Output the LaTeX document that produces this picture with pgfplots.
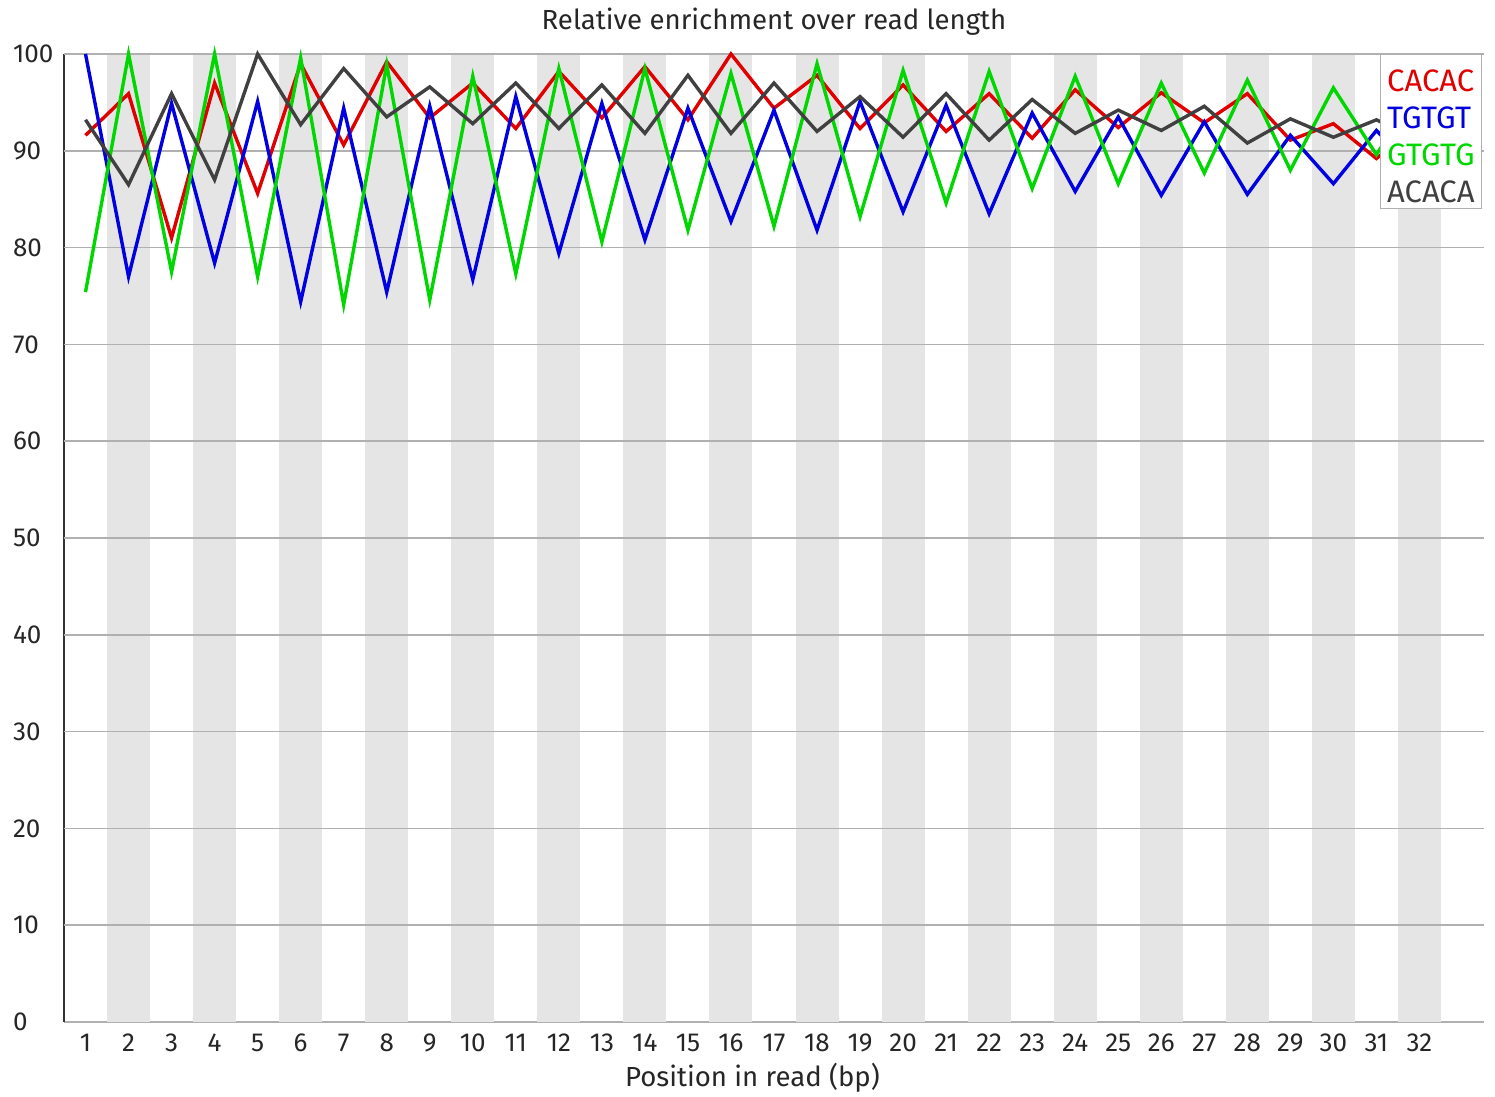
\documentclass[border=0pt]{standalone}
\usepackage{fontspec}
\setmainfont{Fira Sans}
\usepackage{pgfplots}
\usepackage{pgfplotstable}
\pgfplotsset{compat=1.18}
\definecolor{cred}{RGB}{225,0,0}
\definecolor{cblue}{RGB}{0,0,225}
\definecolor{cgreen}{RGB}{0,215,0}
\definecolor{cblack}{RGB}{64,64,64}
\definecolor{band}{RGB}{229,229,229}
\definecolor{gridc}{RGB}{176,176,176}
\pgfplotstableread{
pos red blue green black
1 91.6 100 75.4 93.2
2 95.9 77.0 100 86.5
3 81.0 94.9 77.5 95.9
4 97.0 78.4 100 87.0
5 85.6 95.1 77.0 100
6 99.0 74.4 99.6 92.7
7 90.6 94.4 74.1 98.5
8 99.2 75.4 98.9 93.5
9 93.4 94.6 74.6 96.6
10 97.0 76.7 97.7 92.8
11 92.3 95.6 77.3 97.0
12 98.2 79.4 98.5 92.3
13 93.4 94.9 80.6 96.8
14 98.7 80.8 98.5 91.8
15 93.2 94.4 81.8 97.8
16 100 82.7 98.0 91.8
17 94.4 94.2 82.2 97.0
18 97.8 81.8 99.0 92.0
19 92.3 95.1 83.2 95.6
20 96.8 83.7 98.3 91.4
21 92.0 94.7 84.6 95.9
22 95.9 83.5 98.2 91.1
23 91.3 93.9 86.1 95.3
24 96.3 85.8 97.7 91.8
25 92.4 93.5 86.6 94.2
26 96.0 85.4 97.0 92.1
27 92.9 93.0 87.7 94.6
28 95.9 85.5 97.3 90.8
29 91.1 91.6 88.0 93.3
30 92.8 86.6 96.5 91.4
31 89.2 92.1 89.6 93.2
32 92.8 87.4 96.6 91.1
}\kmer
\begin{document}
\begin{tikzpicture}
\useasboundingbox (-32pt,-37.5pt) rectangle (715.5pt,511pt);
\begin{axis}[
  scale only axis,
  width=710pt, height=484pt,
  xmin=0.5, xmax=33.5, ymin=0, ymax=100,
  xtick={1,...,32}, ytick={0,10,...,100},
  major tick length=0pt,
  /pgf/number format/assume math mode=true,
  ticklabel style={font=\fontsize{13}{15}\selectfont, text=black!85},
  yticklabel style={anchor=west, xshift=-29pt},
  xticklabel style={yshift=-2.5pt},
  axis x line*=bottom, axis y line*=left,
  x axis line style={gridc, line width=1pt, -},
  y axis line style={black!80, line width=1pt, -},
  title={Relative enrichment over read length},
  title style={at={(0.5,1)}, anchor=center, yshift=10pt, font=\fontsize{13.8}{16}\selectfont, text=black!85},
  xlabel={Position in read (bp)},
  xlabel style={at={(axis cs:16.5,0)}, anchor=center, yshift=-28pt, font=\fontsize{13.8}{16}\selectfont, text=black!85},
  legend image code/.code={},
  legend cell align=left,
  legend style={at={(1,1)}, anchor=north east, draw=gridc, fill=white,
    font=\fontsize{15.5}{18}\selectfont, inner xsep=1.5pt, inner ysep=3pt,
    row sep=3pt, xshift=-1pt,
    nodes={text height=15.5pt, text depth=0pt, inner ysep=0pt}},
  clip=false,
]
\pgfplotsinvokeforeach{2,4,...,32}{
  \fill[band] (axis cs:#1-0.5,0) rectangle (axis cs:#1+0.5,100);
}
\pgfplotsinvokeforeach{10,20,...,100}{
  \draw[gridc, line width=0.8pt] (axis cs:0.5,#1) -- (axis cs:33.5,#1);
}
\addplot[cred, line width=1.7pt] table[x=pos, y=red] {\kmer};
\addlegendentry{\textcolor{cred}{CACAC}}
\addplot[cblue, line width=1.7pt] table[x=pos, y=blue] {\kmer};
\addlegendentry{\textcolor{cblue}{TGTGT}}
\addplot[cgreen, line width=1.7pt] table[x=pos, y=green] {\kmer};
\addlegendentry{\textcolor{cgreen}{GTGTG}}
\addplot[cblack, line width=1.7pt] table[x=pos, y=black] {\kmer};
\addlegendentry{\textcolor{cblack}{ACACA}}
\end{axis}
\end{tikzpicture}
\end{document}
